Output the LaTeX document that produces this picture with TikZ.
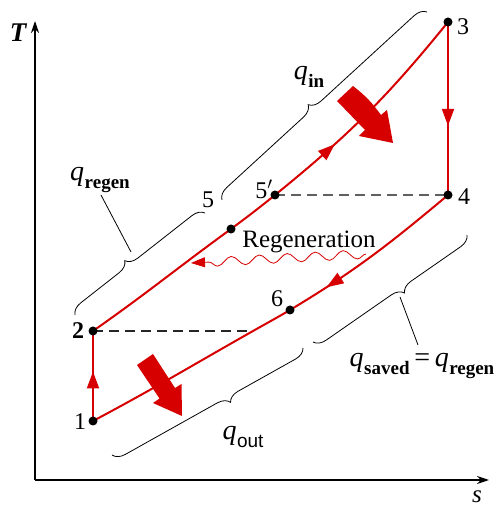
\documentclass[tikz,border=0pt]{standalone}
\usepackage{fontspec}
\setmainfont{Liberation Serif}
\newfontfamily\sansf{Liberation Sans}
\usetikzlibrary{arrows.meta,decorations.pathreplacing,decorations.pathmorphing,decorations.markings}
\definecolor{cyc}{RGB}{214,0,0}
\definecolor{dashgray}{RGB}{95,95,95}
\newcommand\qlab[1]{\textit{q}\kern0.5pt\raisebox{-0.28em}{\fontsize{19}{20}\selectfont\textbf{#1}}}
\newcommand\qlabs[1]{\textit{q}\kern0.5pt\raisebox{-0.28em}{\fontsize{19}{20}\selectfont\sansf #1}}
\begin{document}
\begin{tikzpicture}[x=1pt,y=1pt,
  dot/.style={circle,fill=black,inner sep=0pt,minimum size=9pt},
  cycleline/.style={cyc,line width=2pt},
  axisline/.style={line width=1.8pt,-{Stealth[length=12pt,width=8pt]}},
  num/.style={font=\fontsize{24}{26}\selectfont,inner sep=0pt},
  qtext/.style={font=\fontsize{28}{30}\selectfont,inner sep=0pt},
  brc/.style={decorate,decoration={brace,amplitude=12pt,aspect=#1},line width=0.8pt},
  brcm/.style={decorate,decoration={brace,mirror,amplitude=12pt,aspect=#1},line width=0.8pt},
  midarrow/.style={postaction={decorate,decoration={markings,mark=at position #1 with {\arrow{Triangle[length=17pt,width=12pt]}}}}},
  midarrowrev/.style={postaction={decorate,decoration={markings,mark=at position #1 with {\arrowreversed{Triangle[length=17pt,width=12pt]}}}}},
  dashedline/.style={line width=2pt,dash pattern=on 10pt off 6pt},
  bigarrow/.style={fill=cyc}
]
\useasboundingbox (0,0) rectangle (503,508);

% axes
\coordinate (o) at (35,28);
\coordinate (ytip) at (35,487);
\coordinate (xtip) at (489,28);
\draw[axisline] (o) -- (ytip);
\draw[axisline] (o) -- (xtip);
\node[font=\fontsize{27}{30}\selectfont\bfseries\itshape,inner sep=0pt] (tlab) at (18,475) {T};
\node[font=\fontsize{25}{28}\selectfont\itshape,inner sep=0pt] (slab) at (477,11) {s};

% state points
\coordinate (p1) at (93,87);
\coordinate (p2) at (93,177);
\coordinate (p3) at (448,486);
\coordinate (p4) at (448,313);
\coordinate (p5p) at (275,313);
\coordinate (p5) at (231,279);
\coordinate (p6) at (290,198);
\coordinate (qd) at (253,177);

% dashed lines
\draw[dashedline,dashgray] (p5p) -- (p4);
\draw[dashedline,black!85,line width=1.6pt] (p2) -- (qd);

% cycle
\draw[cycleline,midarrow=0.55] (p1) -- (p2);
\draw[cycleline] (p2) to[out=35,in=216] (p5);
\draw[cycleline] (p5) to[out=36.5,in=219] (p5p);
\draw[cycleline,midarrow=0.32] (p5p) to[out=39,in=231] (p3);
\draw[cycleline,midarrow=0.6] (p3) -- (p4);
\draw[cycleline,midarrowrev=0.22] (p6) to[out=31,in=220] (p4);
\draw[cycleline] (p1) to[out=28,in=209.5] (qd) to[out=29.5,in=210.5] (p6);

% regeneration wavy arrow
\coordinate (w1) at (366,254);
\coordinate (w2) at (191,245);
\draw[cyc,line width=0.8pt,decorate,decoration={snake,amplitude=4.5pt,segment length=28pt,post length=12pt},-{Triangle[length=14pt,width=10pt]}] (w1) -- (w2);
\node[font=\fontsize{25}{28}\selectfont,inner sep=0pt] (regen) at (309,266) {Regeneration};

% dots
\node[dot] (d1) at (p1) {};
\node[dot] (d2) at (p2) {};
\node[dot] (d3) at (p3) {};
\node[dot] (d4) at (p4) {};
\node[dot] (d5) at (p5) {};
\node[dot] (d5p) at (p5p) {};
\node[dot] (d6) at (p6) {};

% point labels
\node[num] (l1) at (80,86) {1};
\node[num] (l2) at (78,177) {\textbf{2}};
\node[num] (l3) at (463,481) {3};
\node[num] (l4) at (464,311) {4};
\node[num] (l5p) at (264,319) {5$'$};
\node[num] (l5) at (208,308) {5};
\node[num] (l6) at (277,209) {6};

% big heat arrows
\fill[bigarrow] (353,422) to[bend left=8] (381,393) -- (387,398) -- (393,365) -- (359,372) -- (365,378) -- (337,407) -- cycle;
\fill[bigarrow] (153,154) -- (175,120) -- (181.5,124) -- (182,92) -- (153,105) -- (159.5,109.5) -- (137,143) -- cycle;

% braces
\coordinate (bin1) at (222,308);
\coordinate (bin2) at (427,496);
\draw[brc=0.46] (bin1) -- (bin2);
\node[qtext] (qin) at (309,431) {\qlab{in}};

\coordinate (br1) at (75,193);
\coordinate (br2) at (205,295);
\draw[brc=0.44] (br1) -- (br2);
\coordinate (lr1) at (131,256);
\coordinate (lr2) at (101,313);
\draw[line width=0.8pt] (lr1) -- (lr2);
\node[qtext] (qregen) at (100,328) {\qlab{regen}};

\coordinate (bs1) at (313,166);
\coordinate (bs2) at (467,273);
\draw[brcm=0.55] (bs1) -- (bs2);
\coordinate (ls1) at (400,211);
\coordinate (ls2) at (418,163);
\draw[line width=0.8pt] (ls1) -- (ls2);
\node[qtext] (qsaved) at (422,142) {\qlab{saved}\,=\,\qlab{regen}};

\coordinate (bo1) at (112,53);
\coordinate (bo2) at (303,160);
\draw[brcm=0.59] (bo1) -- (bo2);
\node[qtext] (qout) at (243,71) {\qlabs{out}};
\end{tikzpicture}
\end{document}
